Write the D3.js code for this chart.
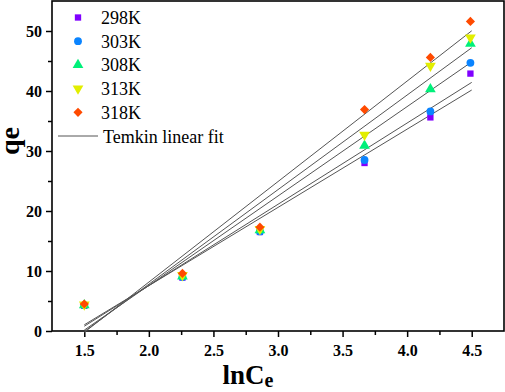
<!DOCTYPE html>
<html>
<head>
<meta charset="utf-8">
<script src="https://cdn.jsdelivr.net/npm/d3@7"></script>
<style>
  body { margin: 0; background: #fff; }
</style>
</head>
<body>
<div id="chart"></div>
<script>
    // Data
    const lnCe = [1.5, 2.26, 2.86, 3.67, 4.18, 4.49];
    const temps = ["298K", "303K", "308K", "313K", "318K"];
    const q298 = [4.2, 8.9, 16.5, 28.0, 35.6, 42.9];
    const q303 = [4.3, 9.0, 16.6, 28.5, 36.6, 44.7];
    const q308 = [4.3, 9.1, 16.8, 30.9, 40.3, 47.9];
    const q313 = [4.4, 9.3, 17.0, 32.7, 44.2, 48.9];
    const q318 = [4.5, 9.6, 17.3, 36.9, 45.6, 51.6];
    const xTicks = [1.5, 2.0, 2.5, 3.0, 3.5, 4.0, 4.5];
    const yTicks = [0, 10, 20, 30, 40, 50];
    const fitLabel = "Temkin linear fit";

    const seriesValues = [q298, q303, q308, q313, q318];
    const colors = ["#8000ff", "#0a84ff", "#00f07a", "#e2ee00", "#ff4a00"];
    const shapes = [d3.symbolSquare, d3.symbolCircle, d3.symbolTriangle, d3.symbolTriangle, d3.symbolSquare];
    const sizes = [40, 48, 50, 50, 42];
    const turns = [0, 0, 0, 180, 45];
    const serif = "'Liberation Serif', 'Times New Roman', serif";

    const W = 505, H = 392;
    const margin = { top: 1, right: 1, bottom: 61, left: 52 };
    const width = W - margin.left - margin.right;
    const height = H - margin.top - margin.bottom;

    const svg = d3.select("#chart")
        .append("svg")
        .attr("width", W)
        .attr("height", H)
        .attr("font-family", serif);

    const g = svg.append("g")
        .attr("transform", `translate(${margin.left},${margin.top})`);

    const x = d3.scaleLinear().domain([1.25, 4.75]).range([0, width]);
    const y = d3.scaleLinear().domain([0, 55]).range([height, 0]);

    // Axes: major ticks with labels, minor ticks without
    g.append("g")
        .attr("transform", `translate(0,${height})`)
        .call(d3.axisBottom(x).tickValues(xTicks).tickFormat(d3.format(".1f")).tickSize(6).tickPadding(8));
    g.append("g")
        .attr("transform", `translate(0,${height})`)
        .call(d3.axisBottom(x).tickValues(xTicks.map(d => d + 0.25).slice(0, -1)).tickFormat("").tickSize(4));

    g.append("g")
        .call(d3.axisLeft(y).tickValues(yTicks).tickSize(6).tickPadding(4));
    g.append("g")
        .call(d3.axisLeft(y).tickValues(yTicks.map(d => d + 5).slice(0, -1)).tickFormat("").tickSize(4));

    g.selectAll(".domain").remove();
    g.selectAll(".tick line").attr("stroke", "#000").attr("stroke-width", 1.5);
    g.selectAll(".tick text")
        .attr("fill", "#000")
        .attr("font-family", serif)
        .attr("font-size", 16)
        .attr("font-weight", "bold");

    // Frame
    g.append("rect")
        .attr("width", width)
        .attr("height", height)
        .attr("fill", "none")
        .attr("stroke", "#000")
        .attr("stroke-width", 1.6);

    // Least squares fits
    function fit(xs, ys) {
        const mx = d3.mean(xs), my = d3.mean(ys);
        const sxy = d3.sum(xs, (d, i) => (d - mx) * (ys[i] - my));
        const sxx = d3.sum(xs, d => (d - mx) * (d - mx));
        const b = sxy / sxx;
        return { b, a: my - b * mx };
    }

    seriesValues.forEach(vals => {
        const f = fit(lnCe, vals);
        g.append("path")
            .datum([1.5, 4.5])
            .attr("fill", "none")
            .attr("stroke", "#555")
            .attr("stroke-width", 1)
            .attr("d", d3.line().x(d => x(d)).y(d => y(f.a + f.b * d)));
    });

    // Points
    seriesValues.forEach((vals, s) => {
        g.selectAll(".pt" + s)
            .data(vals)
            .enter().append("path")
            .attr("transform", (d, i) => `translate(${x(lnCe[i])},${y(d)}) rotate(${turns[s]})`)
            .attr("d", d3.symbol().type(shapes[s]).size(sizes[s]))
            .attr("fill", colors[s]);
    });

    // Legend
    const legend = svg.append("g").attr("transform", "translate(78,17.5)");
    temps.forEach((t, i) => {
        const row = legend.append("g").attr("transform", `translate(0,${i * 23.7})`);
        row.append("path")
            .attr("d", d3.symbol().type(shapes[i]).size(sizes[i]))
            .attr("transform", `rotate(${turns[i]})`)
            .attr("fill", colors[i]);
        row.append("text")
            .attr("x", 23)
            .attr("y", 6.5)
            .attr("font-size", 18)
            .text(t);
    });
    const fitRow = legend.append("g").attr("transform", `translate(0,${5 * 23.7})`);
    fitRow.append("line")
        .attr("x1", -20).attr("x2", 20)
        .attr("stroke", "#555").attr("stroke-width", 1);
    fitRow.append("text")
        .attr("x", 25)
        .attr("y", 6.5)
        .attr("font-size", 18)
        .text(fitLabel);

    // Axis titles
    svg.append("text")
        .attr("transform", "translate(19,141) rotate(-90)")
        .attr("text-anchor", "middle")
        .attr("font-size", 28)
        .attr("font-weight", "bold")
        .text("qe");

    const xt = svg.append("text")
        .attr("x", 248)
        .attr("y", 384)
        .attr("text-anchor", "middle")
        .attr("font-size", 27)
        .attr("font-weight", "bold");
    xt.append("tspan").text("lnC");
    xt.append("tspan").attr("dy", 3).attr("font-size", 20).text("e");
</script>
</body>
</html>
